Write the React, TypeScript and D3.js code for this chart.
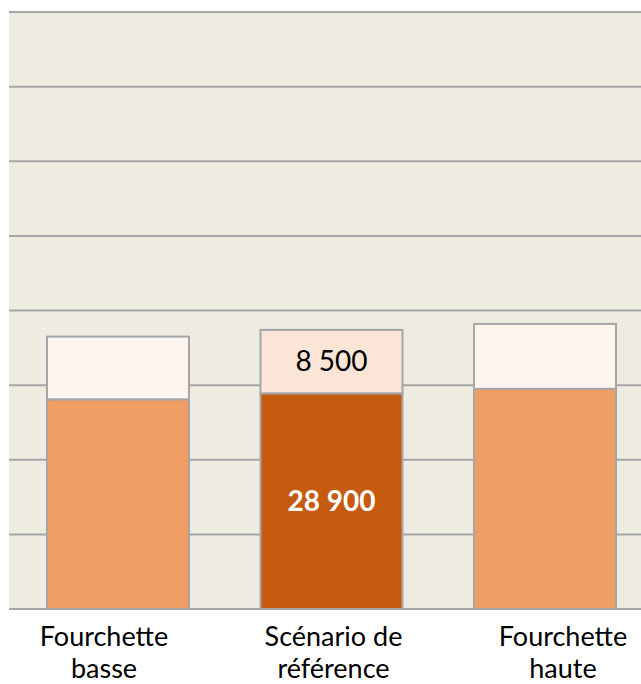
import React from "react";
import * as d3 from "d3";

const categories = ["Fourchette basse", "Scénario de référence", "Fourchette haute"];
const labelLines = [["Fourchette", "basse"], ["Scénario de", "référence"], ["Fourchette", "haute"]];
const baseValues = [28100, 28900, 29500];
const extraValues = [8400, 8500, 8700];
const highlighted = [false, true, false];
const yTicks = [0, 10000, 20000, 30000, 40000, 50000, 60000, 70000, 80000];

const W = 641;
const H = 684;
const plotTop = 12;
const plotBottom = 609;
const plotLeft = 9;

const fmt = (v: number) => d3.format(",")(v).replace(/,/g, " ");

export default function App() {
  const x = d3.scaleBand<string>().domain(categories).range([11.25, 651.75]).paddingInner(0.335).paddingOuter(0.1675);
  const y = d3.scaleLinear().domain([0, 80000]).range([plotBottom, plotTop]);
  const labelX = d3.scalePoint<string>().domain(categories).range([104, 563]);
  const font = "Lato, 'Liberation Sans', sans-serif";

  return (
    <svg width={W} height={H} style={{ position: "absolute", left: 0, top: 0, display: "block" }}>
      <rect x={0} y={0} width={W} height={H} fill="#ffffff" />
      <rect x={plotLeft} y={plotTop} width={W - plotLeft} height={plotBottom - plotTop} fill="#EEEBE0" />
      {yTicks.map((t) => (
        <line key={t} x1={plotLeft} x2={W} y1={y(t)} y2={y(t)} stroke="#A6A6A6" strokeWidth={2} />
      ))}
      {categories.map((c, i) => {
        const bx = x(c)!;
        const bw = x.bandwidth();
        const y0 = y(0);
        const y1 = y(baseValues[i]);
        const y2 = y(baseValues[i] + extraValues[i]);
        return (
          <g key={c}>
            <rect x={bx} y={y1} width={bw} height={y0 - y1} fill={highlighted[i] ? "#C55A11" : "#F09E64"} stroke="#A6A6A6" strokeWidth={2} />
            <rect x={bx} y={y2} width={bw} height={y1 - y2} fill={highlighted[i] ? "#FBE5D6" : "#FDF4EE"} stroke="#A6A6A6" strokeWidth={2} />
            {highlighted[i] && (
              <>
                <text x={bx + bw / 2} y={(y1 + y2) / 2} dy="0.35em" textAnchor="middle" fontFamily={font} fontSize={28} fill="#000">
                  {fmt(extraValues[i])}
                </text>
                <text x={bx + bw / 2} y={(y0 + y1) / 2} dy="0.35em" textAnchor="middle" fontFamily={font} fontSize={28} fontWeight="bold" fill="#fff">
                  {fmt(baseValues[i])}
                </text>
              </>
            )}
          </g>
        );
      })}
      <line x1={plotLeft} x2={W} y1={y(0)} y2={y(0)} stroke="#A6A6A6" strokeWidth={2} />
      {categories.map((c, i) => (
        <text key={c} x={labelX(c)} textAnchor="middle" fontFamily={font} fontSize={27} fill="#000">
          {labelLines[i].map((l, j) => (
            <tspan key={j} x={labelX(c)} y={646 + j * 32}>{l}</tspan>
          ))}
        </text>
      ))}
    </svg>
  );
}
